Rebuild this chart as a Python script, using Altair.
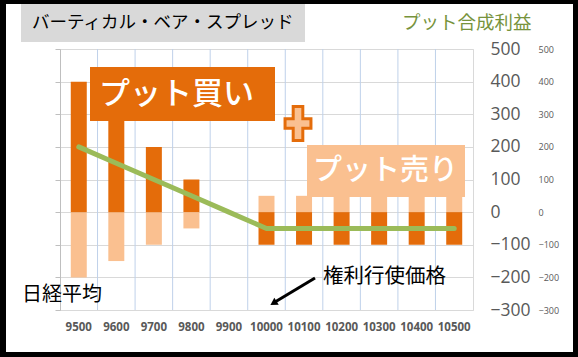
import altair as alt
import pandas as pd

categories = ["9500", "9600", "9700", "9800", "9900", "10000", "10100", "10200", "10300", "10400", "10500"]
put_buy = [400, 300, 200, 100, 0, -100, -100, -100, -100, -100, -100]
put_sell = [-200, -150, -100, -50, 0, 50, 50, 50, 50, 50, 50]
put_net = [200, 150, 100, 50, 0, -50, -50, -50, -50, -50, -50]
y_ticks = [-300, -200, -100, 0, 100, 200, 300, 400, 500]

title_text = "バーティカル・ベア・スプレッド"
net_label = "プット合成利益"
buy_label = "プット買い"
sell_label = "プット売り"
x_label = "日経平均"
strike_label = "権利行使価格"

DARK = "#e46c0a"
LIGHT = "#fac090"
GREEN = "#9bbb59"
CJK = "Noto Sans CJK JP"

df = pd.DataFrame({"cat": categories, "buy": put_buy, "sell": put_sell, "net": put_net})
grid_df = pd.DataFrame({"cat": categories[1:]})
one = alt.Data(values=[{"a": 1}])

xscale = alt.Scale(domain=categories, paddingInner=0, paddingOuter=0)
xaxis = alt.Axis(title=None, labelAngle=0, labelFont="Open Sans", labelFontWeight="bold",
                 labelFontSize=11.5, labelColor="#595959", labelPadding=11,
                 ticks=False, domain=False, grid=False)
X = alt.X("cat:O", scale=xscale, axis=xaxis)

def yscale():
    return alt.Scale(domain=[-300, 500], nice=False, zero=True)

vgrid = alt.Chart(grid_df).mark_rule(color="#bfd1ea", strokeWidth=1).encode(
    x=alt.X("cat:O", scale=xscale, axis=xaxis, bandPosition=0)
)

sell_bars = alt.Chart(df).mark_bar(size=16, color=LIGHT).encode(
    x=X,
    y=alt.Y("sell:Q", scale=yscale(), stack=None,
            axis=alt.Axis(orient="left", labels=False, title=None, values=y_ticks,
                          tickSize=5, tickColor="#bfbfbf", domainColor="#bfbfbf",
                          gridColor="#d9d9d9", grid=True)),
)

buy_bars = alt.Chart(df).mark_bar(size=16, color=DARK).encode(
    x=X,
    y=alt.Y("buy:Q", scale=yscale(), stack=None,
            axis=alt.Axis(orient="right", title=None, values=y_ticks, grid=False,
                          ticks=False, domain=False, labelPadding=17,
                          labelFont="Open Sans", labelFontSize=17.5, labelColor="#595959")),
)

net_line = alt.Chart(df).mark_line(color=GREEN, strokeWidth=5, strokeCap="round",
                                   strokeJoin="round").encode(
    x=X,
    y=alt.Y("net:Q", scale=yscale(),
            axis=alt.Axis(orient="right", title=None, values=y_ticks, grid=False,
                          ticks=False, domain=False, labelPadding=65,
                          labelFont="Open Sans", labelFontSize=9, labelColor="#595959")),
)

def box(x1, x2, y1, y2, color):
    return alt.Chart(one).mark_rect(color=color).encode(
        x=alt.value(x1), x2=alt.value(x2), y=alt.value(y1), y2=alt.value(y2))

def label(txt, x, y, size, color, align="left", weight="normal"):
    return alt.Chart(one).mark_text(align=align, baseline="middle", font=CJK,
                                    fontSize=size, color=color, fontWeight=weight).encode(
        x=alt.value(x), y=alt.value(y), text=alt.value(txt))

buy_box = box(30, 215, 18, 72, DARK)
buy_txt = label(buy_label, 116.5, 46, 31, "white", align="center", weight=500)
sell_box = box(247, 405, 96, 148, LIGHT)
sell_txt = label(sell_label, 325.5, 122, 29, "white", align="center", weight=500)

plus_path = ("M-0.26,-0.92 L0.26,-0.92 L0.26,-0.26 L0.7,-0.26 L0.7,0.26 L0.26,0.26 "
             "L0.26,0.92 L-0.26,0.92 L-0.26,0.26 L-0.7,0.26 L-0.7,-0.26 L-0.26,-0.26 Z")
plus = alt.Chart(one).mark_point(shape=plus_path, size=1369, filled=True, fill=LIGHT,
                                 stroke=DARK, strokeWidth=3, opacity=1).encode(
    x=alt.value(238), y=alt.value(74.5))

title_box = box(-39, 245, -45, -7, "#d9d9d9")
title_txt = label(title_text, -28, -26, 17.5, "black")
net_txt = label(net_label, 342, -26, 18.5, "#77933c")
x_txt = label(x_label, -38, 246, 20, "black")
strike_txt = label(strike_label, 263, 228, 20.5, "black")

arrow_line = alt.Chart(one).mark_rule(color="black", strokeWidth=3).encode(
    x=alt.value(255), y=alt.value(229), x2=alt.value(215), y2=alt.value(253))
arrow_head = alt.Chart(one).mark_point(shape="triangle", size=70, filled=True,
                                       color="black", opacity=1, angle=238).encode(
    x=alt.value(214.5), y=alt.value(253.5))

border = [
    box(-60, -54, -49, 308, "black"),
    box(-60, 518, -49, -45, "black"),
    box(513, 518, -49, 308, "black"),
    box(-60, 518, 303, 308, "black"),
]

chart = alt.layer(
    vgrid, sell_bars, buy_bars, net_line,
    buy_box, buy_txt, plus, sell_box, sell_txt,
    title_box, title_txt, net_txt, x_txt, strike_txt,
    arrow_line, arrow_head, *border,
).resolve_scale(y="independent").properties(
    width=413, height=261,
    autosize=alt.AutoSizeParams(type="none"),
    padding={"left": 60, "top": 49, "right": 105, "bottom": 47},
    background="white",
).configure_view(stroke="#d9d9d9")

chart.save("out.html", embed_options={"renderer": "svg", "actions": False})
